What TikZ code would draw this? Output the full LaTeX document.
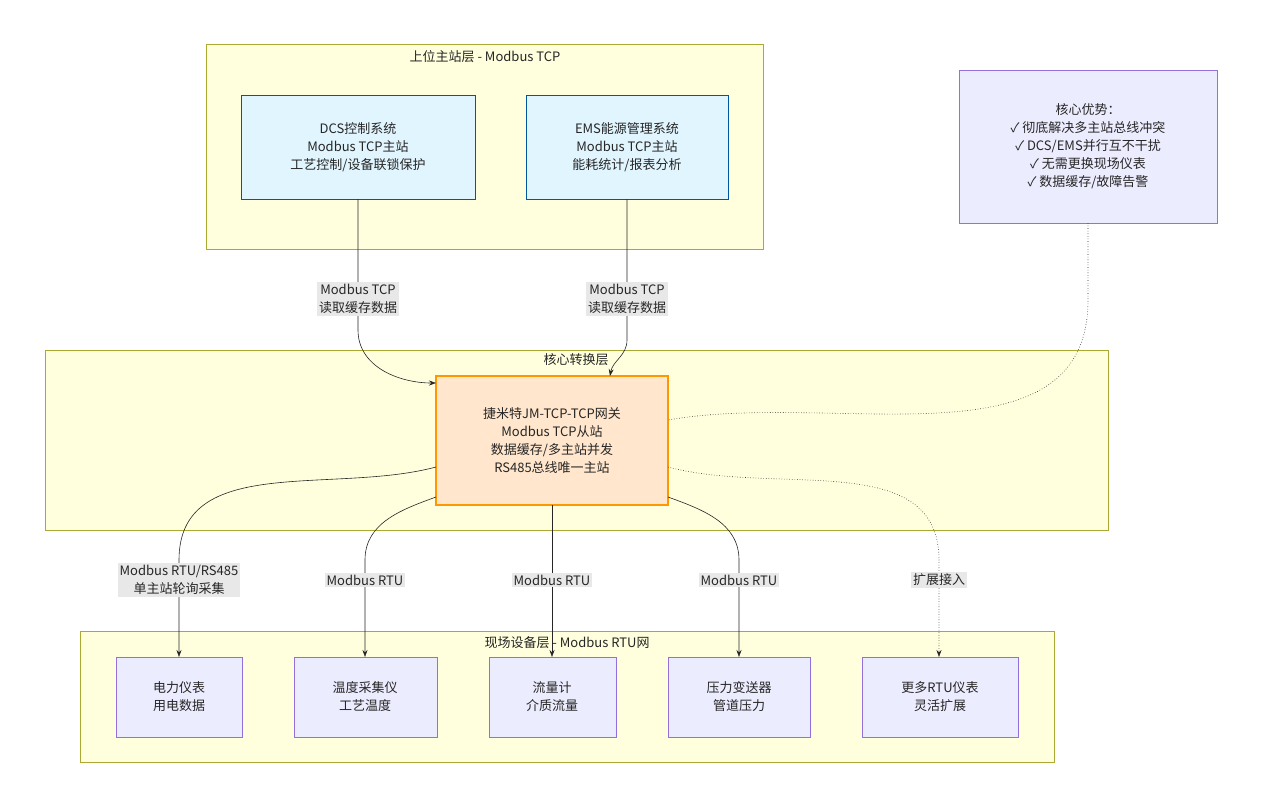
\documentclass[tikz,border=0pt]{standalone}
\usepackage{fontspec}
\setmainfont{Noto Sans CJK SC}
\usetikzlibrary{arrows.meta,positioning}
\definecolor{clfill}{HTML}{FFFFDE}
\definecolor{clline}{HTML}{AAAA33}
\definecolor{bluefill}{HTML}{E1F5FE}
\definecolor{blueline}{HTML}{01579B}
\definecolor{purfill}{HTML}{ECECFF}
\definecolor{purline}{HTML}{9370DB}
\definecolor{orfill}{HTML}{FFE6CC}
\definecolor{orline}{HTML}{FF9800}
\definecolor{lblfill}{HTML}{E8E8E8}
\begin{document}
\begin{tikzpicture}[x=1pt,y=-1pt,>={Stealth[length=7pt,width=5pt]},
  every node/.style={font=\fontsize{13}{18}\selectfont,text=black!85,align=center},
  cluster/.style={draw=clline,fill=clfill,line width=0.6pt},
  host/.style={draw=blueline,fill=bluefill,line width=0.6pt},
  dev/.style={draw=purline,fill=purfill,line width=0.6pt},
  gw/.style={draw=orline,fill=orfill,line width=2pt},
  lbl/.style={fill=lblfill,inner sep=2pt},
  link/.style={->,line width=0.6pt,black!85}]
  \useasboundingbox (0,0) rectangle (1262,807);

  % clusters
  \draw[cluster] (206,44) rectangle (763,249);
  \node (ttop) at (485,57) {上位主站层 - Modbus TCP};
  \draw[cluster] (45,350) rectangle (1108,530);
  \node (tmid) at (576,360) {核心转换层};
  \draw[cluster] (80,631) rectangle (1054,762);
  \node (tbot) at (567,643) {现场设备层 - Modbus RTU网};

  % hosts
  \draw[host] (241,95) rectangle (475,199);
  \node (dcs) at (358,147) {DCS控制系统\\Modbus TCP主站\\工艺控制/设备联锁保护};
  \draw[host] (526,95) rectangle (728,199);
  \node (ems) at (627,147) {EMS能源管理系统\\Modbus TCP主站\\能耗统计/报表分析};

  % advantages
  \draw[dev] (959,70) rectangle (1217,223);
  \node (adv) at (1088,146) {核心优势：\\✓ 彻底解决多主站总线冲突\\✓ DCS/EMS并行互不干扰\\✓ 无需更换现场仪表\\✓ 数据缓存/故障告警};

  % gateway
  \draw[gw] (436,376) rectangle (668,505);
  \node (gw) at (552,441) {捷米特JM-TCP-TCP网关\\Modbus TCP从站\\数据缓存/多主站并发\\RS485总线唯一主站};

  % devices
  \draw[dev] (116,657) rectangle (242,737);
  \node (d1) at (179,697) {电力仪表\\用电数据};
  \draw[dev] (294,657) rectangle (437,737);
  \node (d2) at (365,697) {温度采集仪\\工艺温度};
  \draw[dev] (489,657) rectangle (616,737);
  \node (d3) at (552,697) {流量计\\介质流量};
  \draw[dev] (668,657) rectangle (810,737);
  \node (d4) at (739,697) {压力变送器\\管道压力};
  \draw[dev] (862,657) rectangle (1018,737);
  \node (d5) at (940,697) {更多RTU仪表\\灵活扩展};

  % connectors
  \coordinate (dcsb) at (358,199);
  \coordinate (emsb) at (627,199);
  \coordinate (gwa) at (436,383);
  \coordinate (gwb) at (610,376);
  \draw[link] (dcsb) -- (358,330) to[out=-90,in=180] (gwa);
  \draw[link] (emsb) -- (627,340) to[out=-90,in=80] (gwb);
  \node[lbl] (l1) at (358,299) {Modbus TCP\\读取缓存数据};
  \node[lbl] (l2) at (627,299) {Modbus TCP\\读取缓存数据};

  \coordinate (g1) at (436,467);
  \coordinate (g2) at (436,497);
  \coordinate (g3) at (552,505);
  \coordinate (g4) at (668,497);
  \coordinate (g5) at (668,467);
  \draw[link] (g1) to[out=195,in=90] (179,560) -- (179,657);
  \draw[link] (g2) to[out=200,in=90] (365,560) -- (365,657);
  \draw[link] (g3) -- (552,657);
  \draw[link] (g4) to[out=-20,in=90] (739,560) -- (739,657);
  \draw[link,dotted] (g5) to[out=-15,in=90] (939,560) -- (939,657);
  \node[lbl] (l3) at (179,580) {Modbus RTU/RS485\\单主站轮询采集};
  \node[lbl] (l4) at (365,580) {Modbus RTU};
  \node[lbl] (l5) at (552,580) {Modbus RTU};
  \node[lbl] (l6) at (739,580) {Modbus RTU};
  \node[lbl] (l7) at (939,580) {扩展接入};

  \coordinate (advb) at (1088,223);
  \coordinate (gwr) at (668,420);
  \draw[dotted,line width=0.6pt,black!85] (advb) -- (1088,300) to[out=-90,in=10] (gwr);
\end{tikzpicture}
\end{document}
